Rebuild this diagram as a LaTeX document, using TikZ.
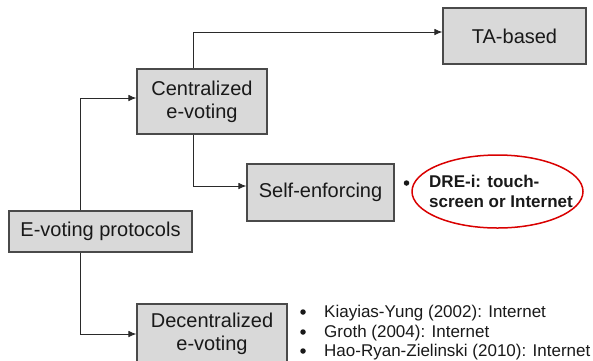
\documentclass[tikz,border=0pt]{standalone}
\usepackage{fontspec}
\setmainfont{Liberation Sans}
\usetikzlibrary{arrows.meta,shapes.geometric}
\definecolor{boxfill}{HTML}{D9D9D9}
\definecolor{boxline}{HTML}{4A4A4A}
\definecolor{conn}{HTML}{2A2A2A}
\begin{document}
\begin{tikzpicture}[x=1pt,y=-1pt,
  box/.style={draw=boxline,fill=boxfill,line width=1.1pt,inner sep=0pt,align=center,
     font=\fontsize{20}{23}\selectfont,text=black!90},
  conn/.style={draw=conn,line width=0.9pt,-{Latex[length=8pt,width=6.5pt]}},
  dot/.style={circle,fill=black!90,inner sep=0pt,minimum size=5.5pt},
  bul/.style={anchor=base west,inner sep=0pt,font=\fontsize{17}{20}\selectfont,text=black!90},
  boldtxt/.style={anchor=base west,inner sep=0pt,font=\fontsize{17}{20}\selectfont\bfseries,text=black!90}
]
\useasboundingbox (0,0) rectangle (593,360);
\node[box,minimum width=183pt,minimum height=41pt] (evp) at (100.5,231.5) {E-voting protocols};
\node[box,minimum width=130pt,minimum height=65pt] (cen) at (202,101.5) {Centralized\\e-voting};
\node[box,minimum width=143pt,minimum height=56pt] (ta) at (514.5,36) {TA-based};
\node[box,minimum width=147pt,minimum height=57pt] (self) at (320.5,192.5) {Self-enforcing};
\node[box,minimum width=150pt,minimum height=60pt] (dec) at (212,334) {Decentralized\\e-voting};

\draw[conn] ([xshift=-20.5pt]evp.north) |- ([yshift=3.5pt]cen.west);
\draw[conn] ([xshift=-20.5pt]evp.south) |- (dec.west);
\draw[conn] ([xshift=-9pt]cen.north) |- ([yshift=4pt]ta.west);
\draw[conn] ([xshift=-9pt]cen.south) |- ([yshift=6.5pt]self.west);

% self-enforcing list
\node[dot] (sb) at (406.5,183) {};
\node[boldtxt] (s1) at (429,187) {DRE-i: touch-};
\node[boldtxt] (s2) at (429,207) {screen or Internet};
\node[draw=red!85!black,line width=1.5pt,ellipse,minimum width=171pt,minimum height=73pt,inner sep=0pt] (ell) at (497.5,191.5) {};

% decentralized list
\node[dot] (b1) at (303,312) {};
\node[bul] (t1) at (324,317) {Kiayias-Yung (2002): Internet};
\node[dot] (b2) at (303,332) {};
\node[bul] (t2) at (324,337) {Groth (2004): Internet};
\node[dot] (b3) at (303,351) {};
\node[bul] (t3) at (324,356) {Hao-Ryan-Zielinski (2010): Internet};
\end{tikzpicture}
\end{document}
